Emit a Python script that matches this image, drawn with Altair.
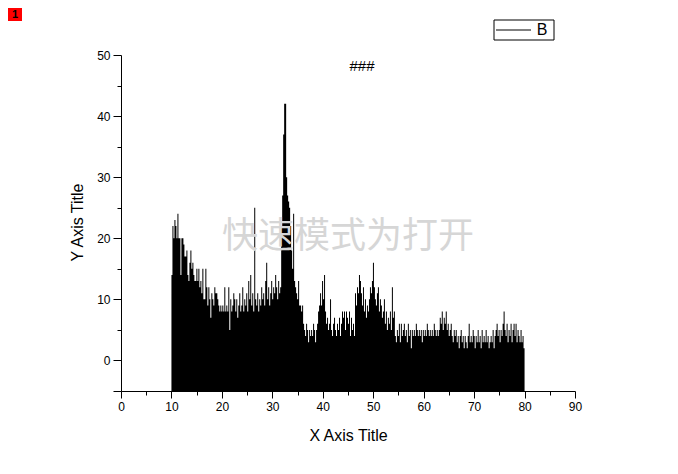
import altair as alt
import numpy as np
import pandas as pd

# Counts (x from 10 to 80, evenly spaced)
seg_10_23 = [14, 22, 20, 23, 22, 20, 24, 20, 20, 14,
             20, 20, 19, 17, 17, 18, 14, 13, 16, 18,
             15, 16, 14, 13, 13, 15, 13, 15, 12, 13,
             11, 15, 10, 10, 15, 12, 9, 12, 10, 7,
             11, 10, 9, 12, 11, 11, 10, 9, 8, 9,
             8, 9, 8, 12, 8, 9, 8, 12, 5, 10,
             8, 9, 11, 10]
seg_23_36 = [8, 10, 7, 9, 11, 8, 9, 12, 8, 10,
             9, 11, 8, 13, 10, 14, 9, 11, 8, 25,
             10, 9, 11, 8, 10, 9, 12, 10, 11, 9,
             13, 16, 10, 12, 9, 11, 13, 10, 12, 11,
             14, 12, 10, 13, 11, 12, 22, 27, 37, 42,
             42, 30, 27, 26, 25, 22, 18, 15, 24, 13,
             12, 11, 10, 13, 9, 9]
seg_36_55 = [8, 9, 6, 5, 4, 6, 5, 3, 5, 4,
             5, 4, 6, 5, 3, 5, 6, 8, 9, 11,
             9, 13, 10, 14, 8, 6, 7, 5, 6, 10,
             5, 4, 6, 7, 5, 4, 6, 5, 7, 4,
             6, 8, 7, 8, 5, 8, 7, 6, 8, 4,
             7, 5, 6, 4, 11, 9, 12, 11, 14, 13,
             11, 9, 12, 8, 10, 7, 9, 8, 10, 12,
             11, 13, 16, 12, 10, 9, 11, 12, 8, 10,
             9, 7, 8, 10, 6, 8, 5, 7, 6, 8,
             5, 12, 7, 8, 4, 3, 5, 4, 6, 3]
seg_55_80 = [6, 4, 5, 6, 4, 5, 3, 6, 4, 5,
             2, 5, 4, 5, 4, 6, 5, 4, 5, 4,
             5, 3, 5, 4, 5, 4, 6, 5, 4, 5,
             4, 5, 4, 6, 5, 4, 5, 4, 5, 7,
             6, 8, 5, 7, 6, 8, 5, 6, 4, 5,
             6, 4, 3, 5, 4, 5, 3, 4, 2, 4,
             5, 3, 4, 2, 4, 3, 2, 4, 6, 3,
             4, 3, 5, 4, 2, 4, 3, 5, 3, 4,
             2, 5, 3, 4, 3, 5, 3, 4, 2, 3,
             4, 3, 5, 2, 4, 5, 6, 4, 5, 3,
             5, 4, 6, 8, 5, 4, 6, 3, 5, 4,
             6, 3, 5, 6, 4, 6, 3, 5, 4, 3,
             5, 3, 4, 2, 1]

x_start, x_end = 10, 80
x_ticks = list(range(0, 95, 5))
y_ticks = list(range(-5, 55, 5))

counts = seg_10_23 + seg_23_36 + seg_36_55 + seg_55_80
df = pd.DataFrame({"x": np.linspace(x_start, x_end, len(counts)), "B": counts})

W, H = 454, 336
FONT = "Liberation Sans"

xscale = alt.Scale(domain=[0, 90], nice=False, zero=False)
yscale = alt.Scale(domain=[-5, 50], nice=False, zero=False)

x_axis = alt.Axis(
    values=x_ticks,
    labelExpr="datum.value % 10 === 0 ? datum.label : ''",
    tickSize={"condition": {"test": "datum.value % 10 !== 0", "value": 4}, "value": 7},
    grid=False, domainColor="black", tickColor="black", labelColor="black",
    labelFont=FONT, labelFontSize=12, labelPadding=3, labelFlush=False, labelOverlap=False,
    title="X Axis Title", titleFont=FONT, titleFontSize=16, titleFontWeight="normal",
    titleColor="black", titleBaseline="middle", titleY=44,
)
y_axis = alt.Axis(
    values=y_ticks,
    labelExpr="datum.value % 10 === 0 ? datum.label : ''",
    tickSize={"condition": {"test": "datum.value % 10 !== 0 && datum.value !== -5", "value": 4}, "value": 8},
    grid=False, domainColor="black", tickColor="black", labelColor="black",
    labelFont=FONT, labelFontSize=12, labelPadding=3, labelFlush=False, labelOverlap=False,
    title="Y Axis Title", titleFont=FONT, titleFontSize=16, titleFontWeight="normal",
    titleColor="black", titleBaseline="middle", titleAlign="center", titleAngle=-90,
    titleX=-44, titleY=167,
)

area = alt.Chart(df).mark_area(interpolate="step-after", color="black").encode(
    x=alt.X("x:Q", scale=xscale, axis=x_axis),
    y=alt.Y("B:Q", scale=yscale, axis=y_axis),
    y2=alt.datum(-5),
)

one = pd.DataFrame({"k": [0]})

watermark = alt.Chart(one).mark_text(
    text="快速模式为打开", font="Noto Sans CJK SC", fontSize=36, color="#d6d6d6",
    align="center", baseline="middle",
).encode(x=alt.value(227), y=alt.value(182))

hashes = alt.Chart(one).mark_text(
    text="###", font=FONT, fontSize=15, color="black", align="center", baseline="middle",
).encode(x=alt.value(241), y=alt.value(11))

leg_box = alt.Chart(one).mark_rect(fill="white", stroke="black", strokeWidth=1).encode(
    x=alt.value(373), x2=alt.value(433), y=alt.value(-35), y2=alt.value(-15))
leg_line = alt.Chart(one).mark_rule(color="black", strokeWidth=1).encode(
    x=alt.value(375), x2=alt.value(410), y=alt.value(-25))
leg_text = alt.Chart(one).mark_text(
    text="B", font=FONT, fontSize=16, color="black", align="center", baseline="middle",
).encode(x=alt.value(421), y=alt.value(-25))

red_box = alt.Chart(one).mark_rect(fill="#ff0000").encode(
    x=alt.value(-113), x2=alt.value(-99), y=alt.value(-47), y2=alt.value(-34))
red_text = alt.Chart(one).mark_text(
    text="1", font=FONT, fontSize=11, fontWeight="bold", color="black",
    align="center", baseline="middle",
).encode(x=alt.value(-106), y=alt.value(-40))

chart = alt.layer(
    area, watermark, hashes, leg_box, leg_line, leg_text, red_box, red_text
).properties(
    width=W, height=H,
    autosize=alt.AutoSizeParams(type="none"),
    padding={"left": 113, "top": 47, "right": 95, "bottom": 75},
).configure_view(stroke=None)

chart.save("out.html", embed_options={"renderer": "svg", "actions": False})
